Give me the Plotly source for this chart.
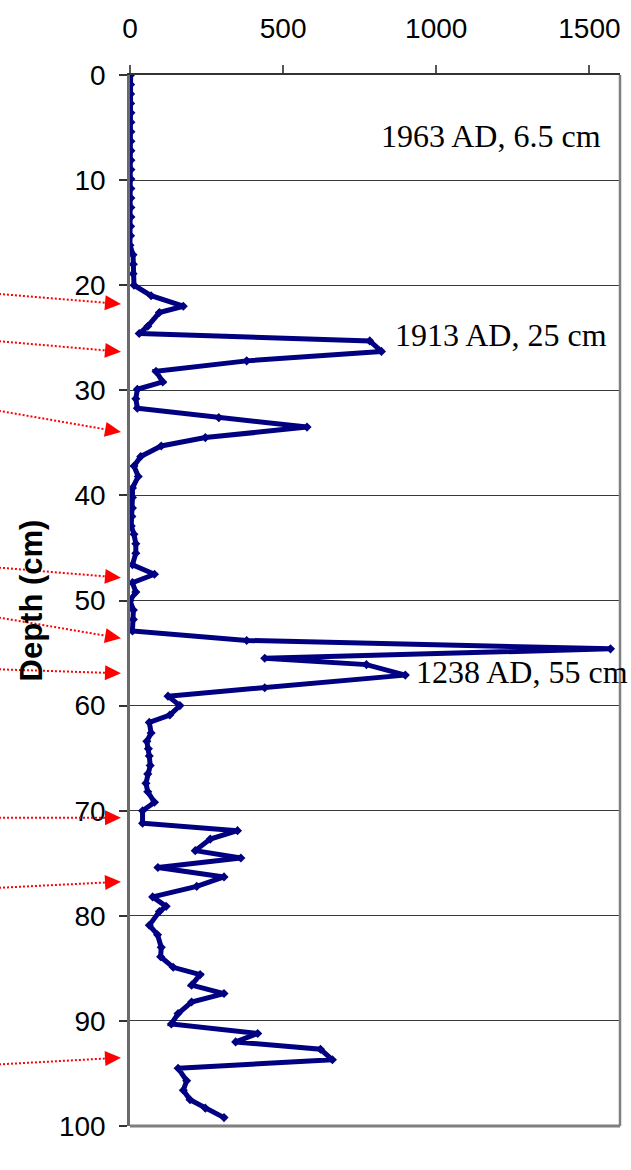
import math
import plotly.graph_objects as go

# ---------------- data ----------------
depth_cm = [
    0.0, 0.9, 1.8, 2.7, 3.6, 4.5, 5.4, 6.3, 7.2, 8.1, 9.0, 9.9, 10.8, 11.7, 12.6,
    13.5, 14.4, 15.3, 16.2, 17.1, 18.0, 18.9,
    20.0, 21.0, 22.0, 22.6, 23.9, 24.6, 25.3, 26.3, 27.2, 28.2, 29.2, 29.9, 30.8,
    31.7, 32.6, 33.5, 34.5, 35.3, 36.3, 37.2, 38.2, 39.3, 40.2, 41.2, 42.0, 42.9,
    43.7, 44.6, 45.5, 46.6, 47.5, 48.3, 49.2, 50.0, 50.9, 51.8, 52.9, 53.8, 54.6,
    55.5, 56.1, 57.1, 58.3, 59.1, 60.0, 60.9, 61.6, 62.6, 63.4, 64.1, 64.8, 65.7,
    66.5, 67.4, 68.2, 69.2, 70.0, 71.2, 71.9, 72.7, 73.8, 74.5, 75.4, 76.3, 77.2,
    78.2, 79.1, 79.6, 80.9, 81.8, 83.0, 83.9, 84.9, 85.6, 86.6, 87.4, 88.2, 89.3,
    90.3, 91.2, 92.0, 92.7, 93.7, 94.5, 95.7, 96.6, 97.5, 98.3, 99.2,
]
activity = [
    2, 2, 2, 2, 3, 3, 3, 3, 3, 3, 3, 3, 3, 3, 3,
    3, 2, 2, 0, 10, 11, 10,
    13, 69, 174, 96, 58, 30, 783, 821, 381, 85, 107, 24, 19,
    24, 290, 578, 246, 102, 35, 13, 27, 8, 8, 8, 6, 4,
    13, 19, 19, 8, 80, 8, 19, 0, 11, 11, 8, 381, 1569,
    440, 772, 899, 440, 124, 163, 130, 63, 69, 55, 60, 63, 66,
    58, 52, 58, 80, 41, 41, 351, 262, 213, 362, 91, 307, 218,
    74, 118, 96, 63, 90, 102, 100, 141, 229, 201, 307, 201, 157,
    135, 417, 345, 622, 661, 157, 185, 174, 196, 246, 307,
]

x_ticks = [0, 500, 1000, 1500]
y_ticks = [0, 10, 20, 30, 40, 50, 60, 70, 80, 90, 100]

date_labels = ["1963 AD, 6.5 cm", "1913 AD, 25 cm", "1238 AD, 55 cm"]
date_label_depth = [5.8, 24.7, 56.8]
date_label_right = [0.966, 0.977, 1.021]

# red arrows: (depth at left edge of page, depth at arrow tip)
arrow_start_depth = [20.84, 25.34, 31.97, 46.88, 51.64, 56.55, 70.67, 77.33, 94.13]
arrow_tip_depth = [21.79, 26.33, 33.97, 47.83, 53.60, 56.93, 70.67, 76.76, 93.50]

# ---------------- layout geometry ----------------
W, H = 631, 1170
ML, MR, MT, MB = 130, 11, 75, 44
PW, PH = W - ML - MR, H - MT - MB
Y0, Y1 = 0, 100

TICK_FONT = "Liberation Sans, Arial, sans-serif"


def px_to_paper(px, py):
    return (px - ML) / PW, 1 - (py - MT) / PH


def depth_to_py(d):
    return MT + (d - Y0) / (Y1 - Y0) * PH


fig = go.Figure()
fig.add_trace(go.Scatter(
    x=activity, y=depth_cm, mode="lines+markers",
    line=dict(color="#000080", width=5),
    marker=dict(symbol="diamond", size=7, color="#000080"),
    showlegend=False, hoverinfo="x+y",
))

shapes = []
RED = "#ff0000"
for d0, d1 in zip(arrow_start_depth, arrow_tip_depth):
    tx, ty = 121.0, depth_to_py(d1)
    slope = (ty - depth_to_py(d0)) / tx
    sx = -5.0
    sy = depth_to_py(d0) + slope * sx
    dx, dy = tx - sx, ty - sy
    L = math.hypot(dx, dy)
    ux, uy = dx / L, dy / L
    bx, by = tx - 16 * ux, ty - 16 * uy
    nx, ny = -uy, ux
    p0 = px_to_paper(sx, sy)
    p1 = px_to_paper(bx, by)
    shapes.append(dict(type="line", xref="paper", yref="paper",
                       x0=p0[0], y0=p0[1], x1=p1[0], y1=p1[1],
                       line=dict(color=RED, width=2, dash="2px,2px"), layer="above"))
    a = px_to_paper(tx, ty)
    b = px_to_paper(bx + 7.5 * nx, by + 7.5 * ny)
    c = px_to_paper(bx - 7.5 * nx, by - 7.5 * ny)
    shapes.append(dict(type="path", xref="paper", yref="paper",
                       path=f"M {a[0]},{a[1]} L {b[0]},{b[1]} L {c[0]},{c[1]} Z",
                       fillcolor=RED, line=dict(color=RED, width=0), layer="above"))

# right and bottom plot borders (grey)
shapes.append(dict(type="line", xref="paper", yref="paper", x0=1, x1=1, y0=0, y1=1,
                   line=dict(color="#7f7f7f", width=2.5), layer="above"))
shapes.append(dict(type="line", xref="paper", yref="paper", x0=0, x1=1, y0=0, y1=0,
                   line=dict(color="#7f7f7f", width=3), layer="above"))

annotations = []
for txt, d, xr in zip(date_labels, date_label_depth, date_label_right):
    annotations.append(dict(
        text=txt, x=xr, y=d, xref="paper", yref="y", xanchor="right", yanchor="middle",
        showarrow=False,
        font=dict(family="Liberation Serif, Times New Roman, serif", size=32, color="black"),
    ))

fig.update_layout(
    width=W, height=H,
    margin=dict(l=ML, r=MR, t=MT, b=MB, autoexpand=False),
    paper_bgcolor="white", plot_bgcolor="white",
    shapes=shapes, annotations=annotations,
    xaxis=dict(
        side="top", range=[0, 1600], tickvals=x_ticks, ticktext=[str(v) for v in x_ticks],
        ticks="outside", ticklen=8, tickwidth=1.5, tickcolor="#555555",
        showline=True, linecolor="#333333", linewidth=2,
        showgrid=False, zeroline=False, automargin=False,
        tickfont=dict(family=TICK_FONT, size=28, color="black"),
        ticklabelstandoff=16,
    ),
    yaxis=dict(
        range=[Y1, Y0], tickvals=y_ticks, ticktext=[str(v) for v in y_ticks],
        ticks="outside", ticklen=8, tickwidth=1.5, tickcolor="#333333",
        showline=True, linecolor="#6a6a6a", linewidth=2.5,
        showgrid=True, gridcolor="#3a3a3a", gridwidth=1, zeroline=False, automargin=False,
        tickfont=dict(family=TICK_FONT, size=28, color="black"),
        ticklabelstandoff=8,
        title=dict(text="<b>Depth (cm)</b>", standoff=8,
                   font=dict(family="Liberation Sans, Arial, sans-serif", size=31, color="black")),
    ),
)

fig.write_html("out.html")
